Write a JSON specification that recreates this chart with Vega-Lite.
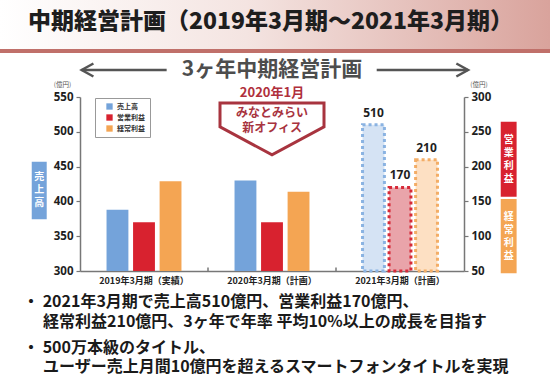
{
  "$schema": "https://vega.github.io/schema/vega-lite/v6.json",
  "width": 384,
  "height": 174,
  "autosize": {"type": "none"},
  "padding": {"left": 80, "top": 97, "right": 86, "bottom": 118},
  "background": "white",
  "config": {
    "font": "Noto Sans CJK JP",
    "view": {"stroke": null},
    "axis": {"grid": false}
  },
  "datasets": {
    "bars": [
      {"year": "2019年3月期（実績）", "item": "売上高", "value": 388},
      {"year": "2019年3月期（実績）", "item": "営業利益", "value": 120},
      {"year": "2019年3月期（実績）", "item": "経常利益", "value": 179},
      {"year": "2020年3月期（計画）", "item": "売上高", "value": 430},
      {"year": "2020年3月期（計画）", "item": "営業利益", "value": 120},
      {"year": "2020年3月期（計画）", "item": "経常利益", "value": 164},
      {"year": "2021年3月期（計画）", "item": "売上高", "value": 510},
      {"year": "2021年3月期（計画）", "item": "営業利益", "value": 170},
      {"year": "2021年3月期（計画）", "item": "経常利益", "value": 210}
    ],
    "ticks": [
      {"year": "2020年3月期（計画）"},
      {"year": "2021年3月期（計画）"}
    ],
    "one": [{}]
  },
  "layer": [
    {
      "layer": [
        {
          "data": {"name": "bars"},
          "transform": [{"filter": "datum.item === '売上高' && datum.year !== '2021年3月期（計画）'"}],
          "mark": {"type": "bar"},
          "encoding": {
            "x": {"field": "year", "type": "nominal",
              "scale": {"domain": ["2019年3月期（実績）", "2020年3月期（計画）", "2021年3月期（計画）"], "paddingInner": 0, "paddingOuter": 0},
              "axis": {"title": null, "ticks": false, "labelAngle": 0, "labelFontSize": 9, "labelFontWeight": "bold", "labelColor": "#222", "labelPadding": 5, "domainColor": "#777", "domainWidth": 1.5}},
            "xOffset": {"field": "item", "type": "nominal", "scale": {"domain": ["売上高", "営業利益", "経常利益"], "paddingInner": 0.176, "paddingOuter": 1.1}},
            "y": {"field": "value", "type": "quantitative",
              "scale": {"domain": [300, 550], "zero": false, "nice": false},
              "axis": {"title": "(億円)", "titleAngle": 0, "titleX": -18, "titleY": -12.5, "titleFontSize": 6.5, "titleFontWeight": "normal", "titleColor": "#555", "titleAlign": "center", "titleBaseline": "middle",
                "values": [300, 350, 400, 450, 500, 550], "tickCount": 6, "labelOverlap": false, "labelFontSize": 11.5, "labelFontWeight": "bold", "labelColor": "#1e1e1e", "labelFont": "Noto Sans", "tickSize": 4, "tickColor": "#777", "tickWidth": 1.2, "domainColor": "#777", "domainWidth": 1.5, "labelPadding": 3}},
            "y2": {"datum": 300},
            "color": {"field": "item", "type": "nominal",
              "scale": {"domain": ["売上高", "営業利益", "経常利益"], "range": ["#74a3da", "#d8222f", "#f4a553"]},
              "legend": {"title": null, "orient": "none", "legendX": 15, "legendY": 1, "strokeColor": "#999", "fillColor": "white", "padding": 5, "symbolOffset": 6, "symbolType": "square", "symbolSize": 40, "symbolStrokeWidth": 0, "labelFontSize": 7, "labelFontWeight": "bold", "labelColor": "#333", "rowPadding": 3}}
          }
        },
        {
          "data": {"name": "bars"},
          "transform": [{"filter": "datum.item === '売上高' && datum.year === '2021年3月期（計画）'"}],
          "mark": {"type": "bar", "strokeDash": [3, 3], "strokeWidth": 3},
          "encoding": {
            "x": {"field": "year", "type": "nominal"},
            "xOffset": {"field": "item", "type": "nominal", "scale": {"domain": ["売上高", "営業利益", "経常利益"], "paddingInner": 0.176, "paddingOuter": 1.1}},
            "y": {"field": "value", "type": "quantitative", "scale": {"domain": [300, 550], "zero": false, "nice": false}},
            "y2": {"datum": 300},
            "fill": {"field": "item", "type": "nominal", "scale": {"domain": ["売上高", "営業利益", "経常利益"], "range": ["#d5e3f4", "#e9a4aa", "#fde0c3"]}, "legend": null},
            "stroke": {"field": "item", "type": "nominal", "scale": {"domain": ["売上高", "営業利益", "経常利益"], "range": ["#8ab3e2", "#d62a38", "#f3ad66"]}, "legend": null}
          }
        },
        {
          "data": {"name": "bars"},
          "transform": [{"filter": "datum.item === '売上高' && datum.year === '2021年3月期（計画）'"}],
          "mark": {"type": "text", "baseline": "bottom", "dy": -5, "fontSize": 12, "fontWeight": "bold", "font": "Noto Sans", "color": "#1e1e1e"},
          "encoding": {
            "x": {"field": "year", "type": "nominal"},
            "xOffset": {"field": "item", "type": "nominal", "scale": {"domain": ["売上高", "営業利益", "経常利益"], "paddingInner": 0.176, "paddingOuter": 1.1}},
            "y": {"field": "value", "type": "quantitative", "scale": {"domain": [300, 550], "zero": false, "nice": false}},
            "text": {"field": "value", "type": "quantitative"}
          }
        },
        {
          "data": {"name": "ticks"},
          "mark": {"type": "rule", "color": "#777", "strokeWidth": 1.5},
          "encoding": {
            "x": {"field": "year", "type": "nominal", "bandPosition": 0},
            "y": {"datum": 300, "scale": {"domain": [300, 550], "zero": false, "nice": false}},
            "y2": {"datum": 305}
          }
        },
        {
          "data": {"name": "one"},
          "mark": {"type": "rect", "fill": {"gradient": "linear", "x1": 0, "x2": 1, "y1": 0, "y2": 0, "stops": [{"offset": 0, "color": "#ffffff"}, {"offset": 0.45, "color": "#f4e4e1"}, {"offset": 1, "color": "#d9a39c"}]}},
          "encoding": {
            "x": {"datum": "2019年3月期（実績）", "bandPosition": -0.625},
            "x2": {"datum": "2021年3月期（計画）", "bandPosition": 1.672},
            "y": {"datum": 690, "scale": {"domain": [300, 550], "zero": false, "nice": false}},
            "y2": {"datum": 617.5}
          }
        },
        {
          "data": {"name": "one"},
          "mark": {"type": "rule", "color": "#c0706a", "strokeWidth": 4},
          "encoding": {
            "x": {"datum": "2019年3月期（実績）", "bandPosition": -0.625},
            "x2": {"datum": "2021年3月期（計画）", "bandPosition": 1.672},
            "y": {"datum": 616, "scale": {"domain": [300, 550], "zero": false, "nice": false}}
          }
        },
        {
          "data": {"name": "one"},
          "mark": {"type": "text", "align": "left", "baseline": "middle", "fontSize": 23, "fontWeight": 900, "color": "#1e1e1e", "text": "中期経営計画（2019年3月期～2021年3月期）"},
          "encoding": {
            "x": {"datum": "2019年3月期（実績）", "bandPosition": -0.406},
            "y": {"datum": 658, "scale": {"domain": [300, 550], "zero": false, "nice": false}}
          }
        },
        {
          "data": {"name": "one"},
          "mark": {"type": "text", "align": "center", "baseline": "middle", "fontSize": 21, "fontWeight": "bold", "color": "#4d4d4d", "text": "3ヶ年中期経営計画"},
          "encoding": {
            "x": {"datum": "2020年3月期（計画）", "bandPosition": 0.5},
            "y": {"datum": 588.8, "scale": {"domain": [300, 550], "zero": false, "nice": false}}
          }
        },
        {
          "data": {"name": "one"},
          "mark": {"type": "rule", "color": "#555", "strokeWidth": 2.5},
          "encoding": {
            "x": {"datum": "2019年3月期（実績）", "bandPosition": 0.013},
            "x2": {"datum": "2019年3月期（実績）", "bandPosition": 0.677},
            "y": {"datum": 588.8, "scale": {"domain": [300, 550], "zero": false, "nice": false}}
          }
        },
        {
          "data": {"name": "one"},
          "mark": {"type": "rule", "color": "#555", "strokeWidth": 2.5},
          "encoding": {
            "x": {"datum": "2021年3月期（計画）", "bandPosition": 0.318},
            "x2": {"datum": "2021年3月期（計画）", "bandPosition": 1.031},
            "y": {"datum": 588.8, "scale": {"domain": [300, 550], "zero": false, "nice": false}}
          }
        },
        {
          "data": {"name": "one"},
          "mark": {"type": "point", "shape": "M0.9,-1L-0.9,0L0.9,1", "size": 169, "filled": false, "stroke": "#555", "strokeWidth": 2.5, "opacity": 1},
          "encoding": {
            "x": {"datum": "2019年3月期（実績）", "bandPosition": 0.059},
            "y": {"datum": 588.8, "scale": {"domain": [300, 550], "zero": false, "nice": false}}
          }
        },
        {
          "data": {"name": "one"},
          "mark": {"type": "point", "shape": "M-0.9,-1L0.9,0L-0.9,1", "size": 169, "filled": false, "stroke": "#555", "strokeWidth": 2.5, "opacity": 1},
          "encoding": {
            "x": {"datum": "2021年3月期（計画）", "bandPosition": 0.986},
            "y": {"datum": 588.8, "scale": {"domain": [300, 550], "zero": false, "nice": false}}
          }
        },
        {
          "data": {"name": "one"},
          "mark": {"type": "text", "align": "center", "baseline": "middle", "fontSize": 13, "fontWeight": "bold", "color": "#b0303c", "text": "2020年1月"},
          "encoding": {
            "x": {"datum": "2020年3月期（計画）", "bandPosition": 0.5},
            "y": {"datum": 555.3, "scale": {"domain": [300, 550], "zero": false, "nice": false}}
          }
        },
        {
          "data": {"name": "one"},
          "mark": {"type": "point", "shape": "M-1,-0.5L1,-0.5L1,-0.04L0,0.5L-1,-0.04Z", "size": 10816, "filled": true, "fill": "white", "stroke": "#a8343f", "strokeWidth": 3, "opacity": 1},
          "encoding": {
            "x": {"datum": "2020年3月期（計画）", "bandPosition": 0.5},
            "y": {"datum": 504.2, "scale": {"domain": [300, 550], "zero": false, "nice": false}}
          }
        },
        {
          "data": {"name": "one"},
          "mark": {"type": "text", "align": "center", "baseline": "middle", "fontSize": 12, "fontWeight": "bold", "color": "#a8343f", "lineHeight": 15, "lineBreak": "\n", "text": "みなとみらい\n新オフィス"},
          "encoding": {
            "x": {"datum": "2020年3月期（計画）", "bandPosition": 0.5},
            "y": {"datum": 526.6, "scale": {"domain": [300, 550], "zero": false, "nice": false}}
          }
        },
        {
          "data": {"name": "one"},
          "mark": {"type": "rect", "fill": "#74a3da"},
          "encoding": {
            "x": {"datum": "2019年3月期（実績）", "bandPosition": -0.377},
            "x2": {"datum": "2019年3月期（実績）", "bandPosition": -0.26},
            "y": {"datum": 457, "scale": {"domain": [300, 550], "zero": false, "nice": false}},
            "y2": {"datum": 374.3}
          }
        },
        {
          "data": {"name": "one"},
          "mark": {"type": "text", "align": "center", "baseline": "middle", "fontSize": 10, "fontWeight": "bold", "color": "white", "lineHeight": 13, "lineBreak": "\n", "text": "売\n上\n高"},
          "encoding": {
            "x": {"datum": "2019年3月期（実績）", "bandPosition": -0.319},
            "y": {"datum": 435.5, "scale": {"domain": [300, 550], "zero": false, "nice": false}}
          }
        },
        {
          "data": {"name": "one"},
          "mark": {"type": "rect", "fill": "#d8222f"},
          "encoding": {
            "x": {"datum": "2021年3月期（計画）", "bandPosition": 1.287},
            "x2": {"datum": "2021年3月期（計画）", "bandPosition": 1.411},
            "y": {"datum": 514.5, "scale": {"domain": [300, 550], "zero": false, "nice": false}},
            "y2": {"datum": 406.8}
          }
        },
        {
          "data": {"name": "one"},
          "mark": {"type": "text", "align": "center", "baseline": "middle", "fontSize": 10, "fontWeight": "bold", "color": "white", "lineHeight": 13, "lineBreak": "\n", "text": "営\n業\n利\n益"},
          "encoding": {
            "x": {"datum": "2021年3月期（計画）", "bandPosition": 1.349},
            "y": {"datum": 488.2, "scale": {"domain": [300, 550], "zero": false, "nice": false}}
          }
        },
        {
          "data": {"name": "one"},
          "mark": {"type": "rect", "fill": "#f4a553"},
          "encoding": {
            "x": {"datum": "2021年3月期（計画）", "bandPosition": 1.287},
            "x2": {"datum": "2021年3月期（計画）", "bandPosition": 1.411},
            "y": {"datum": 403.4, "scale": {"domain": [300, 550], "zero": false, "nice": false}},
            "y2": {"datum": 296.7}
          }
        },
        {
          "data": {"name": "one"},
          "mark": {"type": "text", "align": "center", "baseline": "middle", "fontSize": 10, "fontWeight": "bold", "color": "white", "lineHeight": 13, "lineBreak": "\n", "text": "経\n常\n利\n益"},
          "encoding": {
            "x": {"datum": "2021年3月期（計画）", "bandPosition": 1.349},
            "y": {"datum": 378, "scale": {"domain": [300, 550], "zero": false, "nice": false}}
          }
        },
        {
          "data": {"name": "one"},
          "mark": {"type": "text", "align": "left", "baseline": "middle", "fontSize": 16, "fontWeight": "bold", "color": "#1a1a1a", "text": "・ 2021年3月期で売上高510億円、営業利益170億円、"},
          "encoding": {
            "x": {"datum": "2019年3月期（実績）", "bandPosition": -0.445},
            "y": {"datum": 255.9, "scale": {"domain": [300, 550], "zero": false, "nice": false}}
          }
        },
        {
          "data": {"name": "one"},
          "mark": {"type": "text", "align": "left", "baseline": "middle", "fontSize": 16, "fontWeight": "bold", "color": "#1a1a1a", "text": "経常利益210億円、3ヶ年で年率 平均10%以上の成長を目指す"},
          "encoding": {
            "x": {"datum": "2019年3月期（実績）", "bandPosition": -0.289},
            "y": {"datum": 227.2, "scale": {"domain": [300, 550], "zero": false, "nice": false}}
          }
        },
        {
          "data": {"name": "one"},
          "mark": {"type": "text", "align": "left", "baseline": "middle", "fontSize": 16, "fontWeight": "bold", "color": "#1a1a1a", "text": "・ 500万本級のタイトル、"},
          "encoding": {
            "x": {"datum": "2019年3月期（実績）", "bandPosition": -0.445},
            "y": {"datum": 188.9, "scale": {"domain": [300, 550], "zero": false, "nice": false}}
          }
        },
        {
          "data": {"name": "one"},
          "mark": {"type": "text", "align": "left", "baseline": "middle", "fontSize": 16, "fontWeight": "bold", "color": "#1a1a1a", "text": "ユーザー売上月間10億円を超えるスマートフォンタイトルを実現"},
          "encoding": {
            "x": {"datum": "2019年3月期（実績）", "bandPosition": -0.289},
            "y": {"datum": 161.6, "scale": {"domain": [300, 550], "zero": false, "nice": false}}
          }
        }
      ]
    },
    {
      "layer": [
        {
          "data": {"name": "bars"},
          "transform": [{"filter": "datum.item !== '売上高' && datum.year !== '2021年3月期（計画）'"}],
          "mark": {"type": "bar"},
          "encoding": {
            "x": {"field": "year", "type": "nominal"},
            "xOffset": {"field": "item", "type": "nominal", "scale": {"domain": ["売上高", "営業利益", "経常利益"], "paddingInner": 0.176, "paddingOuter": 1.1}},
            "y": {"field": "value", "type": "quantitative",
              "scale": {"domain": [50, 300], "zero": false, "nice": false},
              "axis": {"orient": "right", "title": "(億円)", "titleAngle": 0, "titleX": 14.5, "titleY": -12.5, "titleFontSize": 6.5, "titleFontWeight": "normal", "titleColor": "#555", "titleAlign": "center", "titleBaseline": "middle",
                "values": [50, 100, 150, 200, 250, 300], "tickCount": 6, "labelOverlap": false, "labelFontSize": 11.5, "labelFontWeight": "bold", "labelColor": "#1e1e1e", "labelFont": "Noto Sans", "tickSize": 4, "tickColor": "#777", "tickWidth": 1.2, "domainColor": "#777", "domainWidth": 1.5, "labelPadding": 3}},
            "y2": {"datum": 50},
            "color": {"field": "item", "type": "nominal", "scale": {"domain": ["売上高", "営業利益", "経常利益"], "range": ["#74a3da", "#d8222f", "#f4a553"]}}
          }
        },
        {
          "data": {"name": "bars"},
          "transform": [{"filter": "datum.item !== '売上高' && datum.year === '2021年3月期（計画）'"}],
          "mark": {"type": "bar", "strokeDash": [3, 3], "strokeWidth": 3},
          "encoding": {
            "x": {"field": "year", "type": "nominal"},
            "xOffset": {"field": "item", "type": "nominal", "scale": {"domain": ["売上高", "営業利益", "経常利益"], "paddingInner": 0.176, "paddingOuter": 1.1}},
            "y": {"field": "value", "type": "quantitative", "scale": {"domain": [50, 300], "zero": false, "nice": false}},
            "y2": {"datum": 50},
            "fill": {"field": "item", "type": "nominal", "scale": {"domain": ["売上高", "営業利益", "経常利益"], "range": ["#d5e3f4", "#e9a4aa", "#fde0c3"]}, "legend": null},
            "stroke": {"field": "item", "type": "nominal", "scale": {"domain": ["売上高", "営業利益", "経常利益"], "range": ["#8ab3e2", "#d62a38", "#f3ad66"]}, "legend": null}
          }
        },
        {
          "data": {"name": "bars"},
          "transform": [{"filter": "datum.item !== '売上高' && datum.year === '2021年3月期（計画）'"}],
          "mark": {"type": "text", "baseline": "bottom", "dy": -5, "fontSize": 12, "fontWeight": "bold", "font": "Noto Sans", "color": "#1e1e1e"},
          "encoding": {
            "x": {"field": "year", "type": "nominal"},
            "xOffset": {"field": "item", "type": "nominal", "scale": {"domain": ["売上高", "営業利益", "経常利益"], "paddingInner": 0.176, "paddingOuter": 1.1}},
            "y": {"field": "value", "type": "quantitative", "scale": {"domain": [50, 300], "zero": false, "nice": false}},
            "text": {"field": "value", "type": "quantitative"}
          }
        }
      ]
    }
  ],
  "resolve": {"scale": {"y": "independent"}}
}
